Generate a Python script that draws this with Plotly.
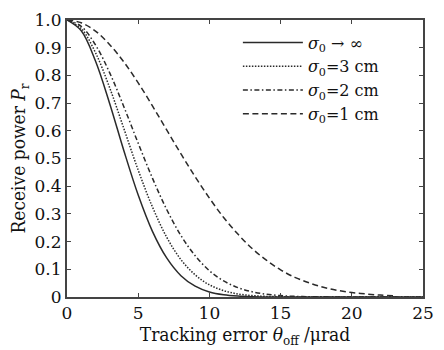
import plotly.graph_objects as go

theta = list(range(0, 26))

p_inf = [1.0, 0.961, 0.852, 0.698, 0.527, 0.368, 0.237, 0.141, 0.077, 0.039, 0.018, 0.0079,
         0.0032, 0.0012, 0.0004, 0.0001, 0, 0, 0, 0, 0, 0, 0, 0, 0, 0]
p_3cm = [1.0, 0.969, 0.882, 0.755, 0.607, 0.458, 0.325, 0.216, 0.135, 0.080, 0.044, 0.023,
         0.011, 0.0051, 0.0022, 0.0009, 0.0003, 0.0001, 0, 0, 0, 0, 0, 0, 0, 0]
p_2cm = [1.0, 0.977, 0.910, 0.809, 0.686, 0.555, 0.429, 0.316, 0.222, 0.149, 0.095, 0.058,
         0.034, 0.019, 0.0099, 0.0050, 0.0024, 0.0011, 0.0005, 0.0002, 0.0001, 0, 0, 0, 0, 0]
p_1cm = [1.0, 0.990, 0.960, 0.911, 0.848, 0.773, 0.690, 0.603, 0.517, 0.434, 0.357, 0.287,
         0.227, 0.175, 0.133, 0.098, 0.071, 0.051, 0.035, 0.024, 0.016, 0.011, 0.0068, 0.0043, 0.0026, 0.0016]

names = ["<i>σ</i><sub>0</sub> → ∞", "<i>σ</i><sub>0</sub>=3 cm",
         "<i>σ</i><sub>0</sub>=2 cm", "<i>σ</i><sub>0</sub>=1 cm"]
series = [p_inf, p_3cm, p_2cm, p_1cm]
dashes = ["solid", "1.5px,1.5px", "5px,2.5px,1.5px,2.5px", "6px,3.5px"]

x_ticks = [0, 5, 10, 15, 20, 25]
y_ticks = [0, 0.1, 0.2, 0.3, 0.4, 0.5, 0.6, 0.7, 0.8, 0.9, 1.0]
y_ticktext = ["0", "0.1", "0.2", "0.3", "0.4", "0.5", "0.6", "0.7", "0.8", "0.9", "1.0"]

FONT = "DejaVu Serif"
TITLE_FONT = "DejaVu Serif Condensed, DejaVu Serif"

fig = go.Figure()
for name, ys, d in zip(names, series, dashes):
    xs, yv = (theta[:24], ys[:24]) if ys is p_1cm else (theta, ys)
    fig.add_trace(go.Scatter(
        x=xs, y=yv, mode="lines", name=name,
        line=dict(color="#2a2a2a", width=1.5, dash=d, shape="spline"),
    ))

fig.update_layout(
    width=444, height=350,
    margin=dict(l=67, r=11, t=10, b=53),
    paper_bgcolor="white", plot_bgcolor="white",
    font=dict(family=FONT, size=17, color="#111"),
    showlegend=True,
    legend=dict(x=0.48, y=0.98, xanchor="left", yanchor="top", bgcolor="rgba(0,0,0,0)",
                font=dict(family=FONT, size=16), itemwidth=60, tracegroupgap=0),
    xaxis=dict(range=[0, 25], tickvals=x_ticks, ticks="inside", ticklen=4, tickcolor="#444",
               showline=True, linecolor="#444", linewidth=2, mirror="ticks", showgrid=False,
               zeroline=False,
               title=dict(text="Tracking error <i>θ</i><sub>off</sub> /μrad", standoff=2,
                          font=dict(family=TITLE_FONT, size=19)),
               tickfont=dict(size=17)),
    yaxis=dict(range=[0, 1], tickvals=y_ticks, ticktext=y_ticktext, ticks="inside", ticklen=4,
               tickcolor="#444", showline=True, linecolor="#444", linewidth=2, mirror="ticks",
               showgrid=False, zeroline=False,
               title=dict(text="Receive power <i>P</i><sub>r</sub>", standoff=4,
                          font=dict(family=TITLE_FONT, size=19)),
               tickfont=dict(size=17)),
)

fig.write_html("out.html")
